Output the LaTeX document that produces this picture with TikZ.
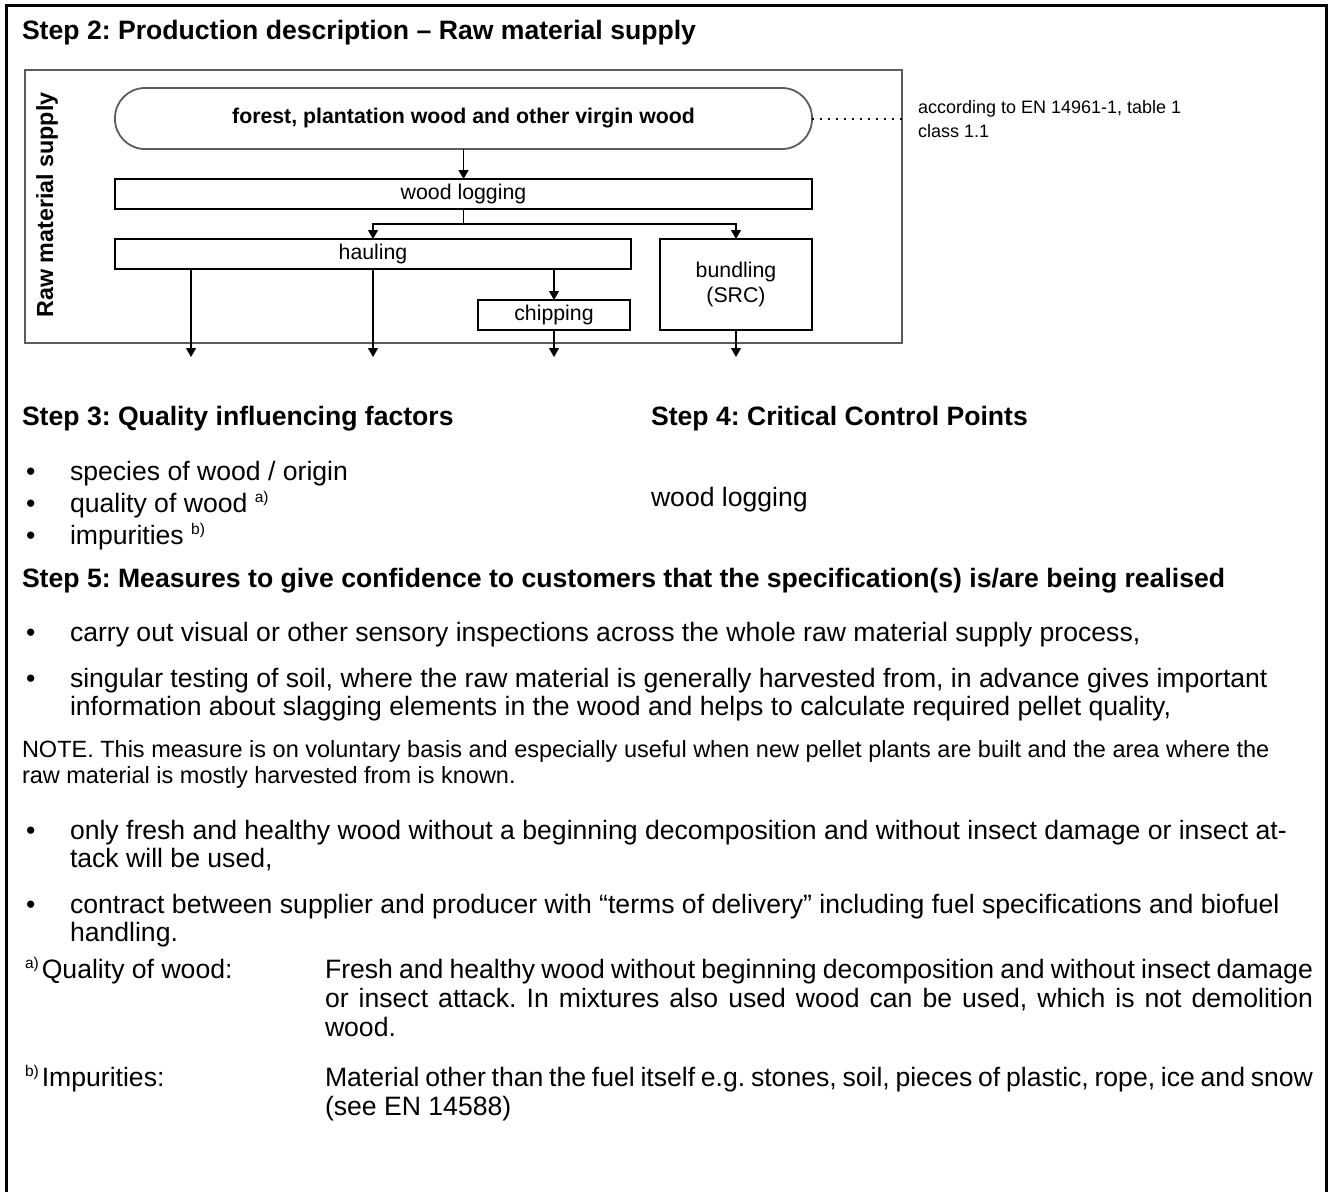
\documentclass[tikz,border=0pt]{standalone}
\usepackage{fontspec}
\setmainfont{Liberation Sans}
\usetikzlibrary{arrows.meta}
\definecolor{framegrey}{HTML}{5C5C5C}
\newcommand{\bodysize}{\fontsize{26.6}{30}\selectfont}
\newcommand{\supmark}[1]{\raisebox{10pt}{\fontsize{15.5}{15.5}\selectfont #1}}
\frenchspacing
\begin{document}
\begin{tikzpicture}[x=1pt,y=-1pt,
  every node/.style={inner sep=0pt,outer sep=0pt},
  procbox/.style={draw=black,line width=1.2pt,minimum height=30pt,font=\fontsize{21.3}{25}\selectfont},
  termbox/.style={draw=framegrey,line width=1.8pt,rounded corners=30pt,minimum height=61pt,font=\fontsize{21.3}{25}\selectfont\bfseries},
  flow/.style={line width=1.2pt,-{Triangle[length=9pt,width=10pt]}},
  txt/.style={anchor=base west,font=\bodysize},
  head/.style={anchor=base west,font=\fontsize{26.6}{30}\selectfont\bfseries},
  notetxt/.style={anchor=base west,font=\fontsize{23.5}{28}\selectfont},
  annot/.style={anchor=base west,font=\fontsize{18}{24}\selectfont},
]
\useasboundingbox (0,0) rectangle (1332,1192);

% outer frame, open at the bottom
\draw[line width=3pt] (6,1192) -- (6,5) -- (1326,5) -- (1326,1192);

% ---------- Step 2: flow chart ----------
\node[head] (h2) at (22,39) {Step 2: Production description – Raw material supply};

\node[draw=framegrey,line width=1.2pt,minimum width=877pt,minimum height=273pt] (supply) at (463.5,206.5) {};
\node[rotate=90,font=\fontsize{23.3}{28}\selectfont\bfseries] (side) at (47,205) {Raw material supply};

\node[termbox,minimum width=697pt] (forest) at (463.5,118.5) {forest, plantation wood and other virgin wood};
\node[procbox,minimum width=697pt] (logging) at (463.5,194) {wood logging};
\node[procbox,minimum width=516pt] (hauling) at (373,254) {hauling};
\node[procbox,minimum width=152pt,minimum height=91pt,align=center,
      font=\fontsize{21.3}{25}\selectfont] (bundling) at (736,284.5) {bundling\\(SRC)};
\node[procbox,minimum width=152pt] (chipping) at (554,315) {chipping};

% reference to the standard
\coordinate (dotend) at (905,118.5);
\draw[line width=2pt,dash pattern=on 2pt off 6pt] (forest.east) -- (dotend);
\node[annot] (std1) at (918,113) {according to EN 14961-1, table 1};
\node[annot] (std2) at (918,137) {class 1.1};

% connectors
\draw[flow] (forest.south) -- (logging.north);
\coordinate (split) at (463.5,224);
\draw[line width=1.2pt] (logging.south) -- (split);
\draw[flow] (split) -| (hauling.north);
\draw[flow] (split) -| (bundling.north);
\draw[flow] (hauling.south -| chipping.north) -- (chipping.north);

\coordinate (out1) at (191,357);
\coordinate (out2) at (373,357);
\coordinate (out3) at (554,357);
\coordinate (out4) at (736,357);
\draw[flow] (hauling.south -| out1) -- (out1);
\draw[flow] (hauling.south) -- (out2);
\draw[flow] (chipping.south) -- (out3);
\draw[flow] (bundling.south) -- (out4);

% ---------- Steps 3 and 4 ----------
\node[head] (h3) at (22,425) {Step 3: Quality influencing factors};
\node[head] (h4) at (651,425) {Step 4: Critical Control Points};

\node[txt] (b31) at (26,480) {\textbullet};
\node[txt] (f1) at (70,480) {species of wood / origin};
\node[txt] (b32) at (26,512) {\textbullet};
\node[txt] (f2) at (70,512) {quality of wood \supmark{a)}};
\node[txt] (b33) at (26,544) {\textbullet};
\node[txt] (f3) at (70,544) {impurities \supmark{b)}};

\node[txt] (ccp) at (651,506) {wood logging};

% ---------- Step 5 ----------
\node[head] (h5) at (22,587) {Step 5: Measures to give confidence to customers that the specification(s) is/are being realised};

\node[txt] (b51) at (26,641) {\textbullet};
\node[txt] (m1) at (70,641) {carry out visual or other sensory inspections across the whole raw material supply process,};
\node[txt] (b52) at (26,687) {\textbullet};
\node[txt] (m2a) at (70,687) {singular testing of soil, where the raw material is generally harvested from, in advance gives important};
\node[txt] (m2b) at (70,715) {information about slagging elements in the wood and helps to calculate required pellet quality,};

\node[notetxt] (n1) at (22,757) {NOTE. This measure is on voluntary basis and especially useful when new pellet plants are built and the area where the};
\node[notetxt] (n2) at (22,783) {raw material is mostly harvested from is known.};

\node[txt] (b53) at (26,839) {\textbullet};
\node[txt] (m3a) at (70,839) {only fresh and healthy wood without a beginning decomposition and without insect damage or insect at-};
\node[txt] (m3b) at (70,867) {tack will be used,};
\node[txt] (b54) at (26,913) {\textbullet};
\node[txt] (m4a) at (70,913) {contract between supplier and producer with “terms of delivery” including fuel specifications and biofuel};
\node[txt] (m4b) at (70,941) {handling.};

% ---------- footnotes ----------
\node[txt] (fa) at (25,978) {\supmark{a)}\kern3pt Quality of wood:};
\node[txt] (fa1) at (325,978) {\makebox[988pt][s]{Fresh and healthy wood without beginning decomposition and without insect damage}};
\node[txt] (fa2) at (325,1007) {\makebox[988pt][s]{or insect attack. In mixtures also used wood can be used, which is not demolition}};
\node[txt] (fa3) at (325,1036) {wood.};

\node[txt] (fb) at (25,1086) {\supmark{b)}\kern3pt Impurities:};
\node[txt] (fb1) at (325,1086) {\makebox[988pt][s]{Material other than the fuel itself e.g. stones, soil, pieces of plastic, rope, ice and snow}};
\node[txt] (fb2) at (325,1115) {(see EN 14588)};
\end{tikzpicture}
\end{document}
